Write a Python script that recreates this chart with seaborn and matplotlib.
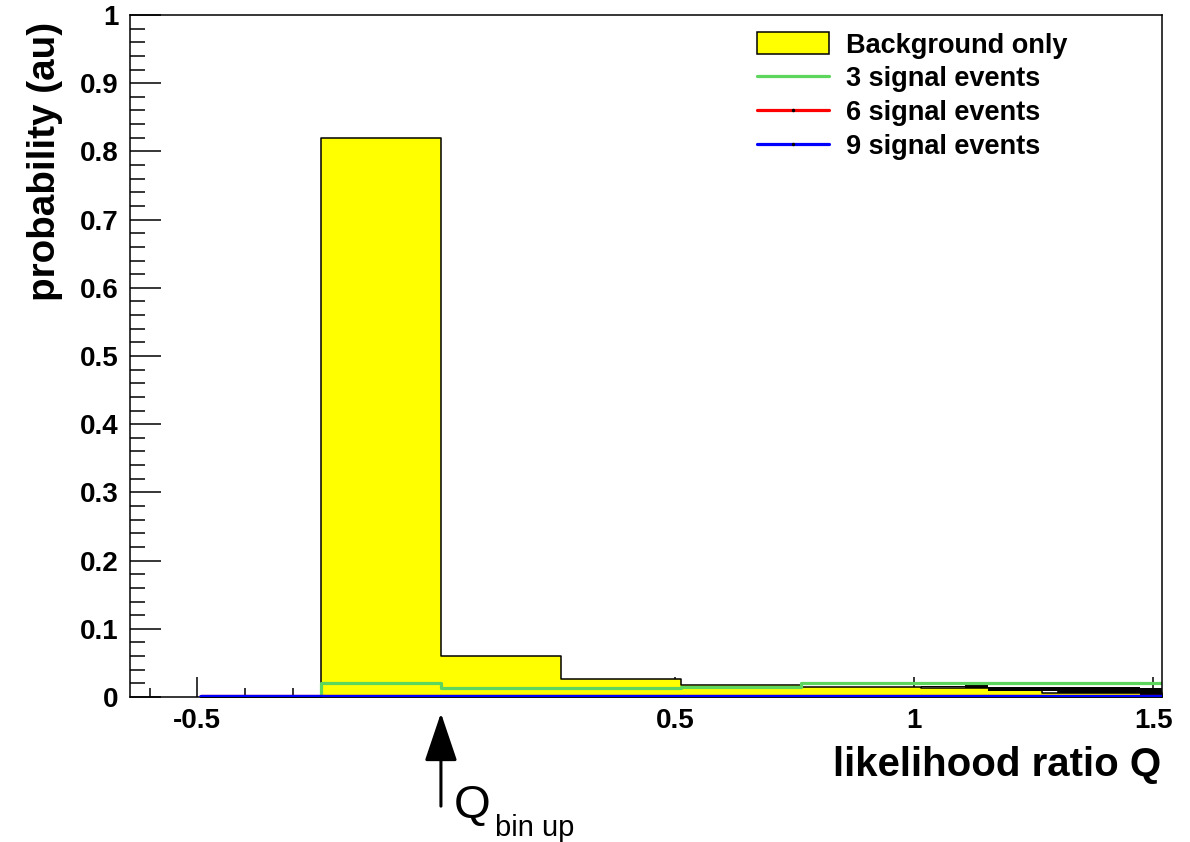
import numpy as np
import pandas as pd
import matplotlib
matplotlib.use("Agg")
import matplotlib.pyplot as plt
from matplotlib.patches import Patch
from matplotlib.lines import Line2D
from matplotlib.ticker import MultipleLocator, FixedLocator
import seaborn as sns

# ---------------- data ----------------
bin_edges = [-0.493, -0.2417, 0.0096, 0.2609, 0.5122, 0.7635, 1.0148, 1.2661, 1.5174]
background_only = [0.0, 0.82, 0.0606, 0.026, 0.018, 0.015, 0.0128, 0.0054]
signal_3 = [0.0, 0.020, 0.0137, 0.0137, 0.015, 0.020, 0.021, 0.021]
signal_6 = [0.0, 0.0, 0.0, 0.0, 0.0, 0.0, 0.0, 0.0]
signal_9 = [0.0, 0.0, 0.0, 0.0, 0.0, 0.0, 0.0, 0.0]
# dark marker/error band of the signal histograms in the tail
tail_edges = [1.0148, 1.106, 1.154, 1.301, 1.472, 1.5174]
tail_upper = [0.0157, 0.0205, 0.0151, 0.0142, 0.0132]
tail_lower = [0.0142, 0.0132, 0.0092, 0.0063, 0.0]

x_major_ticks = [-0.5, 0.0, 0.5, 1.0, 1.5]
x_tick_labels = ["-0.5", "", "0.5", "1", "1.5"]
y_major_ticks = [0.0, 0.1, 0.2, 0.3, 0.4, 0.5, 0.6, 0.7, 0.8, 0.9, 1.0]
y_tick_labels = ["0", "0.1", "0.2", "0.3", "0.4", "0.5", "0.6", "0.7", "0.8", "0.9", "1"]
legend_labels = ["Background only", "3 signal events", "6 signal events", "9 signal events"]
q_bin_up = 0.0096

# ---------------- style ----------------
sns.set_theme(style="white")
plt.rcParams["font.family"] = ["Liberation Sans", "DejaVu Sans"]
plt.rcParams["text.color"] = "black"
plt.rcParams["axes.labelcolor"] = "black"

YELLOW = "#FFFF00"
GREEN = "#5CD65C"
RED = "#FF0000"
BLUE = "#0000FF"

fig = plt.figure(figsize=(11.9, 8.42), dpi=100)
ax = fig.add_axes([0.1092, 0.1722, 0.8670, 0.8100])

centers = [(a + b) / 2 for a, b in zip(bin_edges[:-1], bin_edges[1:])]
df = pd.DataFrame({"x": centers, "bg": background_only, "s3": signal_3,
                   "s6": signal_6, "s9": signal_9})

sns.histplot(data=df, x="x", weights="bg", bins=bin_edges, element="step",
             fill=True, color=YELLOW, edgecolor="black", linewidth=1.1,
             alpha=1, ax=ax, zorder=1)

ax.fill_between(list(tail_edges), list(tail_lower) + [tail_lower[-1]],
                list(tail_upper) + [tail_upper[-1]], step="post",
                color="black", linewidth=0, zorder=1.6)

sns.histplot(data=df, x="x", weights="s3", bins=bin_edges, element="step",
             fill=False, color=GREEN, linewidth=2.3, alpha=1, ax=ax, zorder=2)
sns.histplot(data=df, x="x", weights="s6", bins=bin_edges, element="step",
             fill=False, color=RED, linewidth=3.8, alpha=1, ax=ax, zorder=2.1)
sns.histplot(data=df, x="x", weights="s9", bins=bin_edges, element="step",
             fill=False, color=BLUE, linewidth=3.8, alpha=1, ax=ax, zorder=3)

ax.set_xlim(-0.641, 1.5174)
ax.set_ylim(0, 1)
ax.set_axisbelow(True)

for s in ax.spines.values():
    s.set_color("black")
    s.set_linewidth(1.1)
    s.set_visible(True)

ax.xaxis.set_major_locator(FixedLocator(x_major_ticks))
ax.set_xticklabels(x_tick_labels)
ax.xaxis.set_minor_locator(MultipleLocator(0.1))
ax.yaxis.set_major_locator(FixedLocator(y_major_ticks))
ax.set_yticklabels(y_tick_labels)
ax.yaxis.set_minor_locator(MultipleLocator(0.02))

ax.tick_params(axis="x", which="major", direction="in", length=14.4, width=1.1,
               bottom=True, top=False, pad=8, labelsize=20, color="black")
ax.tick_params(axis="x", which="minor", direction="in", length=6.8, width=1.1,
               bottom=True, top=False, color="black")
ax.tick_params(axis="y", which="major", direction="in", length=22.5, width=1.1,
               left=True, right=False, pad=8, labelsize=20, color="black")
ax.tick_params(axis="y", which="minor", direction="in", length=11, width=1.1,
               left=True, right=False, color="black")
for lab in ax.get_xticklabels() + ax.get_yticklabels():
    lab.set_fontweight("bold")
    lab.set_color("black")

ax.set_xlabel("likelihood ratio Q", fontsize=29, fontweight="bold",
              ha="right", va="center", color="black")
ax.xaxis.set_label_coords(1.0, -0.0995)
ax.set_ylabel("probability (au)", fontsize=27.8, fontweight="bold",
              ha="right", va="center", color="black")
ax.yaxis.set_label_coords(-0.0824, 0.99)

handles = [
    Patch(facecolor=YELLOW, edgecolor="black", linewidth=1.1),
    Line2D([], [], color=GREEN, linewidth=2.3),
    Line2D([], [], color=RED, linewidth=2.3, marker="o", markersize=1.5,
           markerfacecolor="black", markeredgecolor="black"),
    Line2D([], [], color=BLUE, linewidth=2.3, marker="o", markersize=1.5,
           markerfacecolor="black", markeredgecolor="black"),
]
leg = ax.legend(handles, legend_labels, loc="upper left",
                bbox_to_anchor=(0.6077, 0.975), borderaxespad=0, borderpad=0,
                frameon=False, prop={"weight": "bold", "size": 19.5},
                handlelength=2.66, handleheight=0.886, handletextpad=0.63,
                labelspacing=0.27, numpoints=1)
for t in leg.get_texts():
    t.set_color("black")

# Q_bin up annotation below the axis
ax.annotate("", xy=(q_bin_up, -0.0235), xycoords=ax.get_xaxis_transform(),
            xytext=(q_bin_up, -0.16), textcoords=ax.get_xaxis_transform(),
            arrowprops=dict(arrowstyle="-|>,head_length=0.43,head_width=0.145",
                            color="black", lw=2.2,
                            mutation_scale=70, shrinkA=0, shrinkB=0),
            annotation_clip=False)
fig.text(454 / 1190, 1 - 818 / 842, "Q", fontsize=34, ha="left",
         va="baseline", color="black")
fig.text(495 / 1190, 1 - 836 / 842, "bin up", fontsize=21, ha="left",
         va="baseline", color="black")

fig.savefig("out.png", dpi=100, facecolor="white")
